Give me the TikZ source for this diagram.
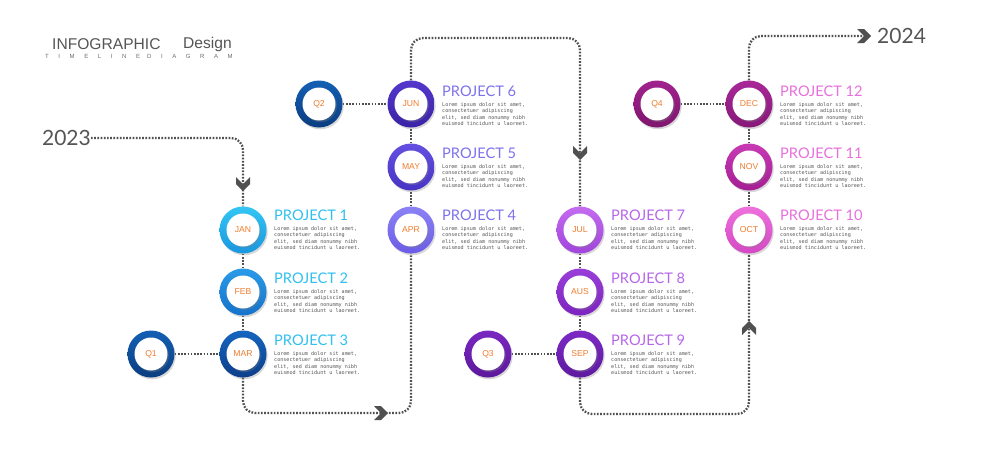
\documentclass[tikz,border=0pt]{standalone}
\usepackage{fontspec}
\setmainfont{Liberation Sans}
\newfontfamily\titlefont{Lato}
\newfontfamily\loremfont{DejaVu Sans Mono}
\newfontfamily\spacedfont[LetterSpace=160]{Liberation Sans}
\usetikzlibrary{shadows,backgrounds}
\definecolor{linegray}{HTML}{505050}
\definecolor{txtgray}{HTML}{555555}
\definecolor{orangeM}{HTML}{F07C2E}
\definecolor{tA}{HTML}{30C0F0}
\definecolor{tB}{HTML}{7D72EC}
\definecolor{tC}{HTML}{B766EA}
\definecolor{tD}{HTML}{E870DC}
% ring colours light/dark
\definecolor{janL}{HTML}{33C6F4}\definecolor{janD}{HTML}{1A96DE}
\definecolor{febL}{HTML}{2A9BE8}\definecolor{febD}{HTML}{1572CA}
\definecolor{marL}{HTML}{1565C0}\definecolor{marD}{HTML}{0D3F8A}
\definecolor{qoneL}{HTML}{1460B4}\definecolor{qoneD}{HTML}{0B3D80}
\definecolor{aprL}{HTML}{8C82F5}\definecolor{aprD}{HTML}{6A5CE6}
\definecolor{mayL}{HTML}{6450E0}\definecolor{mayD}{HTML}{4733C4}
\definecolor{junL}{HTML}{5538CC}\definecolor{junD}{HTML}{3A22A6}
\definecolor{julL}{HTML}{C46CF0}\definecolor{julD}{HTML}{A044DC}
\definecolor{ausL}{HTML}{9A3ED8}\definecolor{ausD}{HTML}{7C24C0}
\definecolor{sepL}{HTML}{7C2AC4}\definecolor{sepD}{HTML}{5E1AA0}
\definecolor{qthrL}{HTML}{7A28C0}\definecolor{qthrD}{HTML}{5C189C}
\definecolor{octL}{HTML}{EE70DC}\definecolor{octD}{HTML}{D448C4}
\definecolor{novL}{HTML}{C83AB4}\definecolor{novD}{HTML}{A41E94}
\definecolor{decL}{HTML}{A82898}\definecolor{decD}{HTML}{861878}
\definecolor{qfouL}{HTML}{A0228E}\definecolor{qfouD}{HTML}{7E166E}
\tikzset{
  ring/.style={circle, minimum size=47pt, inner sep=0pt, shading angle=35,
    drop shadow={shadow xshift=1.2pt, shadow yshift=-1.8pt, opacity=0.3}},
  whitein/.style={circle, minimum size=33pt, inner sep=0pt, fill=white,
    drop shadow={shadow xshift=1.4pt, shadow yshift=-1.6pt, opacity=0.3},
    font=\fontsize{8.6}{8.6}\selectfont, text=orangeM},
  dotline/.style={draw=linegray, line width=2.3pt, dash pattern=on 1.7pt off 1.5pt, rounded corners=12pt},
  title/.style={anchor=west, inner sep=0pt, font=\titlefont\fontsize{14.6}{14.6}\selectfont},
  lorem/.style={anchor=north west, inner sep=0pt, align=left, text=txtgray,
    font=\loremfont\fontsize{5.1}{6.5}\selectfont},
  chev/.style={fill=linegray}
}
\newcommand\mstone[5]{% name x y colourprefix label
  \node[ring, top color=#4L, bottom color=#4D] (#1) at (#2,#3) {};
  \node[whitein] (#1in) at (#2,#3) {#5};
}
\newcommand\ptext[5]{% name x y colour title
  \node[title, text=#4] (#1t) at (#2,#3) {#5};
  \node[lorem] (#1l) at (#2,#3+11) {Lorem ipsum dolor sit amet,\\consectetuer adipiscing\\elit, sed diam nonummy nibh\\euismod tincidunt u laoreet.};
}
\newcommand\chevron[3]{%
  \fill[chev, shift={(#1,#2)}, rotate=#3] (-7,-7) -- (0,-7) -- (7,0) -- (0,7) -- (-7,7) -- (0,0) -- cycle;
}
\begin{document}
\begin{tikzpicture}[x=1pt,y=-1pt]
\useasboundingbox (0,0) rectangle (1000,461);

% heading
\node[anchor=west, inner sep=0pt, text=txtgray, font=\fontsize{15.6}{15.6}\selectfont] (h1) at (52,44) {INFOGRAPHIC};
\node[anchor=west, inner sep=0pt, text=txtgray, font=\fontsize{15.6}{15.6}\selectfont] (h2) at (183,44) {Design};
\node[anchor=west, inner sep=0pt, text=txtgray!85, font=\spacedfont\fontsize{6}{6}\selectfont] (h3) at (45,56) {TIMELINE\kern7pt DIAGRAM};

% years
\node[anchor=east, inner sep=0pt, text=txtgray, font=\titlefont\fontsize{21}{21}\selectfont] (y2023) at (91,138) {2023};
\node[anchor=west, inner sep=0pt, text=txtgray, font=\titlefont\fontsize{21}{21}\selectfont] (y2024) at (877,36) {2024};

% milestones
\mstone{jan}{243}{230}{jan}{JAN}
\mstone{feb}{243}{292}{feb}{FEB}
\mstone{mar}{243}{354}{mar}{MAR}
\mstone{qone}{151}{354}{qone}{Q1}
\mstone{apr}{411}{230}{apr}{APR}
\mstone{may}{411}{167}{may}{MAY}
\mstone{jun}{411}{104}{jun}{JUN}
\mstone{qtwo}{319}{104}{qone}{Q2}
\mstone{jul}{580}{230}{jul}{JUL}
\mstone{aus}{580}{292}{aus}{AUS}
\mstone{sep}{580}{354}{sep}{SEP}
\mstone{qthr}{488}{354}{qthr}{Q3}
\mstone{oct}{749}{230}{oct}{OCT}
\mstone{nov}{749}{167}{nov}{NOV}
\mstone{dec}{749}{104}{dec}{DEC}
\mstone{qfou}{657}{104}{qfou}{Q4}

% project texts
\ptext{pa}{274}{215}{tA}{PROJECT 1}
\ptext{pb}{274}{278}{tA}{PROJECT 2}
\ptext{pc}{274}{340}{tA}{PROJECT 3}
\ptext{pd}{442}{215}{tB}{PROJECT 4}
\ptext{pe}{442}{153}{tB}{PROJECT 5}
\ptext{pf}{442}{91}{tB}{PROJECT 6}
\ptext{pg}{611}{215}{tC}{PROJECT 7}
\ptext{ph}{611}{278}{tC}{PROJECT 8}
\ptext{pi}{611}{340}{tC}{PROJECT 9}
\ptext{pj}{780}{215}{tD}{PROJECT 10}
\ptext{pk}{780}{153}{tD}{PROJECT 11}
\ptext{pl}{780}{91}{tD}{PROJECT 12}

% path coordinates
\coordinate (ca) at (243,138);
\coordinate (cb1) at (243,413);
\coordinate (cb2) at (411,413);
\coordinate (cc1) at (411,38);
\coordinate (cc2) at (580,38);
\coordinate (cd1) at (580,414);
\coordinate (cd2) at (749,414);
\coordinate (ce1) at (749,36);
\coordinate (ce2) at (864,36);

\begin{pgfonlayer}{background}
\fill[white] (0,0) rectangle (1000,461);
\draw[dotline] (y2023.east) -- (ca) -- (jan.north);
\draw[dotline] (jan.south) -- (feb.north);
\draw[dotline] (feb.south) -- (mar.north);
\draw[dotline] (qone.east) -- (mar.west);
\draw[dotline] (mar.south) -- (cb1) -- (cb2) -- (apr.south);
\draw[dotline] (apr.north) -- (may.south);
\draw[dotline] (may.north) -- (jun.south);
\draw[dotline] (qtwo.east) -- (jun.west);
\draw[dotline] (jun.north) -- (cc1) -- (cc2) -- (jul.north);
\draw[dotline] (jul.south) -- (aus.north);
\draw[dotline] (aus.south) -- (sep.north);
\draw[dotline] (qthr.east) -- (sep.west);
\draw[dotline] (sep.south) -- (cd1) -- (cd2) -- (oct.south);
\draw[dotline] (oct.north) -- (nov.south);
\draw[dotline] (nov.north) -- (dec.south);
\draw[dotline] (qfou.east) -- (dec.west);
\draw[dotline] (dec.north) -- (ce1) -- (ce2);
\end{pgfonlayer}

% chevrons
\chevron{243}{184}{-90}
\chevron{381}{413}{0}
\chevron{580}{153}{-90}
\chevron{749}{328}{90}
\chevron{864}{36}{0}
\end{tikzpicture}
\end{document}
